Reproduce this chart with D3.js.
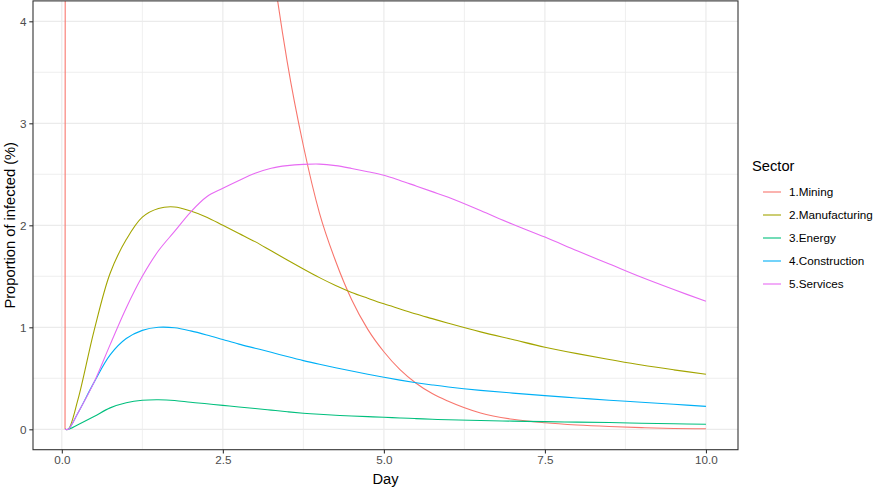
<!DOCTYPE html>
<html><head><meta charset="utf-8">
<script src="https://cdn.jsdelivr.net/npm/d3@7"></script>
<style>
html,body{margin:0;padding:0;background:#fff;}
svg{display:block;font-family:"Liberation Sans",Arial,sans-serif;}
</style></head>
<body><svg id="c" width="879" height="489"></svg>
<script>
const days = [0.05, 0.1, 0.25, 0.5, 0.75, 1, 1.25, 1.5, 1.75, 2, 2.25, 2.5, 2.75, 3, 3.25, 3.5, 3.75, 4, 4.25, 4.5, 4.75, 5, 5.25, 5.5, 5.75, 6, 6.5, 7, 7.5, 8, 8.5, 9, 9.5, 10];
const mining = [0, 60, 58, 55, 51, 46, 38, 29, 22, 17, 13, 10.1, 7.8, 6.03, 4.66, 3.6, 2.78, 2.12, 1.65, 1.27, 0.98, 0.76, 0.585, 0.452, 0.35, 0.275, 0.16, 0.098, 0.064, 0.042, 0.027, 0.016, 0.008, 0.005];
const manufacturing = [0, 0, 0.29, 0.965, 1.53, 1.86, 2.08, 2.165, 2.18, 2.14, 2.08, 2.0, 1.92, 1.84, 1.75, 1.66, 1.572, 1.487, 1.41, 1.342, 1.285, 1.23, 1.18, 1.13, 1.085, 1.04, 0.955, 0.88, 0.805, 0.742, 0.685, 0.63, 0.583, 0.54];
const energy = [0, 0, 0.045, 0.125, 0.21, 0.26, 0.285, 0.29, 0.283, 0.265, 0.25, 0.235, 0.219, 0.204, 0.188, 0.172, 0.158, 0.147, 0.138, 0.13, 0.124, 0.118, 0.111, 0.105, 0.098, 0.093, 0.086, 0.08, 0.075, 0.07, 0.066, 0.06, 0.055, 0.049];
const construction = [0, 0, 0.16, 0.46, 0.73, 0.89, 0.97, 1.0, 0.995, 0.965, 0.925, 0.88, 0.835, 0.795, 0.755, 0.713, 0.673, 0.637, 0.603, 0.571, 0.54, 0.51, 0.482, 0.457, 0.435, 0.415, 0.382, 0.355, 0.33, 0.307, 0.285, 0.265, 0.245, 0.225];
const services = [0, 0, 0.16, 0.46, 0.83, 1.19, 1.50, 1.75, 1.94, 2.13, 2.28, 2.363, 2.44, 2.51, 2.56, 2.585, 2.597, 2.60, 2.585, 2.557, 2.525, 2.49, 2.44, 2.385, 2.33, 2.275, 2.145, 2.01, 1.885, 1.75, 1.62, 1.49, 1.37, 1.255];
const sectors = ["1.Mining", "2.Manufacturing", "3.Energy", "4.Construction", "5.Services"];
const colors = ["#F8766D", "#A3A500", "#00BF7D", "#00B0F6", "#E76BF3"];
const xTicks = [0, 2.5, 5, 7.5, 10];
const xMinor = [1.25, 3.75, 6.25, 8.75];
const yTicks = [0, 1, 2, 3, 4];
const yMinor = [0.5, 1.5, 2.5, 3.5];

const seriesValues = [mining, manufacturing, energy, construction, services];
const series = sectors.map((name, i) => ({name, color: colors[i], values: days.map((d, j) => ({x: d, y: seriesValues[i][j]}))}));

const svg = d3.select("#c");
const L = 33, R = 738, T = 0.9, B = 449.7;
const x = d3.scaleLinear().domain([-0.4475, 10.4975]).range([L, R]);
const y = d3.scaleLinear().domain([-0.2, 4.2]).range([B, T]);

svg.append("defs").append("clipPath").attr("id", "clip")
  .append("rect").attr("x", L).attr("y", T).attr("width", R - L).attr("height", B - T);

const grid = svg.append("g");
grid.selectAll(".ymin").data(yMinor).join("line")
  .attr("x1", L).attr("x2", R).attr("y1", d => y(d)).attr("y2", d => y(d))
  .attr("stroke", "#EBEBEB").attr("stroke-width", 0.8);
grid.selectAll(".xmin").data(xMinor).join("line")
  .attr("y1", T).attr("y2", B).attr("x1", d => x(d)).attr("x2", d => x(d))
  .attr("stroke", "#EBEBEB").attr("stroke-width", 0.8);
grid.selectAll(".ymaj").data(yTicks).join("line")
  .attr("x1", L).attr("x2", R).attr("y1", d => y(d)).attr("y2", d => y(d))
  .attr("stroke", "#EBEBEB").attr("stroke-width", 1.2);
grid.selectAll(".xmaj").data(xTicks).join("line")
  .attr("y1", T).attr("y2", B).attr("x1", d => x(d)).attr("x2", d => x(d))
  .attr("stroke", "#EBEBEB").attr("stroke-width", 1.2);

const smooth = d3.line().x(d => x(d.x)).y(d => y(d.y)).curve(d3.curveCatmullRom.alpha(0.5));
const mono = d3.line().x(d => x(d.x)).y(d => y(d.y)).curve(d3.curveMonotoneX);
svg.append("g").attr("clip-path", "url(#clip)")
  .selectAll("path").data(series).join("path")
  .attr("d", (d, i) => (i === 0 ? mono : smooth)(d.values))
  .attr("fill", "none").attr("stroke", d => d.color).attr("stroke-width", 1.1);

svg.append("rect").attr("x", L).attr("y", T).attr("width", R - L).attr("height", B - T)
  .attr("fill", "none").attr("stroke", "#333333").attr("stroke-width", 1.1);

const xAxis = svg.append("g").attr("transform", `translate(0,${B})`)
  .call(d3.axisBottom(x).tickValues(xTicks).tickFormat(d3.format(".1f")).tickSize(3.7).tickPadding(2.5));
const yAxis = svg.append("g").attr("transform", `translate(${L},0)`)
  .call(d3.axisLeft(y).tickValues(yTicks).tickFormat(d3.format("d")).tickSize(3.7).tickPadding(2.9));
[xAxis, yAxis].forEach(a => {
  a.select(".domain").remove();
  a.selectAll(".tick line").attr("stroke", "#333333").attr("stroke-width", 1.1);
  a.selectAll(".tick text").attr("fill", "#4D4D4D").style("font-size", "11.7px").style("font-family", "'Liberation Sans',Arial,sans-serif");
});

svg.append("text").attr("x", (L + R) / 2).attr("y", 484).attr("text-anchor", "middle")
  .style("font-size", "14.7px").attr("fill", "#000").text("Day");
svg.append("text").attr("transform", `translate(15,${(T + B) / 2}) rotate(-90)`).attr("text-anchor", "middle")
  .style("font-size", "14.7px").attr("fill", "#000").text("Proportion of infected (%)");

const leg = svg.append("g");
leg.append("text").attr("x", 752).attr("y", 171).style("font-size", "14.7px").attr("fill", "#000").text("Sector");
const items = leg.selectAll("g.item").data(series).join("g").attr("class", "item")
  .attr("transform", (d, i) => `translate(0,${192 + i * 23})`);
items.append("line").attr("x1", 763).attr("x2", 781).attr("y1", 0).attr("y2", 0)
  .attr("stroke", d => d.color).attr("stroke-width", 1.1);
items.append("text").attr("x", 789).attr("y", 4.2).style("font-size", "11.7px").attr("fill", "#000").text(d => d.name);
</script></body></html>
